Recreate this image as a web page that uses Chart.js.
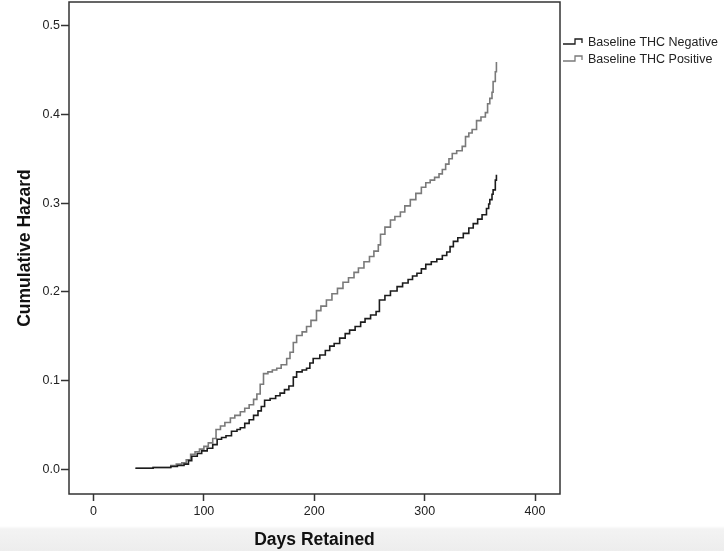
<!DOCTYPE html>
<html>
<head>
<meta charset="utf-8">
<script src="https://cdn.jsdelivr.net/npm/chart.js@4/dist/chart.umd.min.js"></script>
<style>
  html, body { margin: 0; padding: 0; }
  body {
    width: 724px; height: 551px; overflow: hidden;
    background: linear-gradient(to bottom, #ffffff 0px, #ffffff 526px, #f3f3f3 529px, #ededed 551px);
  }
</style>
</head>
<body>
<canvas id="hazard-chart" width="724" height="551"></canvas>
<script>
// Cumulative hazard
var seriesNames = ["Baseline THC Negative", "Baseline THC Positive"];

var negDays = [38, 54, 70, 76, 82, 86, 89, 94, 98, 103, 108, 112, 116, 120, 125, 130, 133, 137, 141, 145,
    149, 152, 155, 160, 165, 169, 173, 177, 181, 184, 189, 193, 196, 199, 205, 210, 214, 218, 223, 228,
    232, 237, 242, 246, 251, 256, 259, 264, 269, 275, 280, 285, 289, 293, 297, 301, 306, 311, 316, 320,
    323, 326, 330, 335, 340, 344, 348, 352, 356, 358, 359, 361, 362, 364, 365];
var negHazard = [0.0014, 0.0023, 0.0034, 0.0045, 0.006, 0.010, 0.015, 0.018, 0.021, 0.024, 0.028, 0.034, 0.036, 0.038, 0.043, 0.045, 0.047, 0.052, 0.056, 0.061,
    0.066, 0.071, 0.078, 0.080, 0.083, 0.086, 0.090, 0.094, 0.104, 0.110, 0.112, 0.114, 0.120, 0.125, 0.129, 0.134, 0.139, 0.142, 0.148, 0.153,
    0.157, 0.161, 0.166, 0.170, 0.174, 0.178, 0.191, 0.196, 0.201, 0.206, 0.210, 0.214, 0.218, 0.221, 0.226, 0.231, 0.234, 0.237, 0.241, 0.245,
    0.251, 0.257, 0.261, 0.266, 0.272, 0.277, 0.282, 0.287, 0.294, 0.299, 0.304, 0.310, 0.315, 0.326, 0.332];

var posDays = [38, 54, 70, 75, 80, 84, 88, 92, 96, 100, 104, 108, 111, 115, 119, 124, 128, 133, 137, 141,
    145, 148, 151, 154, 158, 162, 166, 170, 175, 178, 181, 184, 189, 193, 197, 202, 206, 211, 216, 221,
    226, 231, 236, 240, 245, 250, 254, 258, 260, 264, 269, 273, 278, 282, 287, 292, 297, 301, 305, 309,
    313, 316, 319, 322, 325, 329, 334, 337, 340, 343, 347, 351, 355, 357, 359, 361, 362, 364, 365];
var posHazard = [0.0014, 0.0023, 0.0045, 0.006, 0.0075, 0.011, 0.017, 0.020, 0.023, 0.026, 0.030, 0.035, 0.045, 0.049, 0.053, 0.058, 0.061, 0.065, 0.069, 0.073,
    0.079, 0.085, 0.096, 0.108, 0.110, 0.112, 0.114, 0.118, 0.125, 0.132, 0.143, 0.151, 0.155, 0.161, 0.168, 0.179, 0.184, 0.191, 0.198, 0.204,
    0.211, 0.216, 0.222, 0.227, 0.234, 0.240, 0.246, 0.253, 0.265, 0.273, 0.281, 0.285, 0.290, 0.297, 0.304, 0.311, 0.318, 0.323, 0.326, 0.329,
    0.333, 0.338, 0.344, 0.350, 0.356, 0.359, 0.364, 0.375, 0.379, 0.383, 0.393, 0.397, 0.402, 0.412, 0.418, 0.425, 0.437, 0.448, 0.459];

var xTicks = [0, 100, 200, 300, 400];
var yTicks = [0.0, 0.1, 0.2, 0.3, 0.4, 0.5];

function toPoints(xs, ys) {
    return xs.map(function (x, i) { return { x: x, y: ys[i] }; });
}

var FONT = "'Liberation Sans', Arial, Helvetica, sans-serif";
var INK = '#333333';

// frame around the plot area plus the step-shaped legend on the right
var framePlugin = {
    id: 'frame',
    afterDatasetsDraw: function (chart) {
        var ctx = chart.ctx, a = chart.chartArea;
        ctx.save();
        ctx.strokeStyle = INK;
        ctx.lineWidth = 1.5;
        ctx.strokeRect(a.left, a.top, a.right - a.left, a.bottom - a.top);

        ctx.font = '12.5px ' + FONT;
        ctx.textBaseline = 'middle';
        ctx.fillStyle = '#222';
        chart.data.datasets.forEach(function (ds, i) {
            var y = 43 + i * 17;
            var x0 = a.right + 3;
            ctx.strokeStyle = ds.borderColor;
            ctx.lineWidth = 1.3;
            ctx.beginPath();
            ctx.moveTo(x0, y + 1);
            ctx.lineTo(x0 + 12, y + 1);
            ctx.lineTo(x0 + 12, y - 4);
            ctx.lineTo(x0 + 19, y - 4);
            ctx.lineTo(x0 + 19, y);
            ctx.stroke();
            ctx.fillText(ds.label, x0 + 25, y);
        });
        ctx.restore();
    }
};

new Chart(document.getElementById("hazard-chart"), {
    type: 'line',
    data: {
        datasets: [
            {
                label: seriesNames[0],
                data: toPoints(negDays, negHazard),
                borderColor: '#1c1c1c',
                borderWidth: 1.6,
                stepped: true,
                pointRadius: 0,
                fill: false
            },
            {
                label: seriesNames[1],
                data: toPoints(posDays, posHazard),
                borderColor: '#7a7a7a',
                borderWidth: 1.6,
                stepped: true,
                pointRadius: 0,
                fill: false
            }
        ]
    },
    plugins: [framePlugin],
    options: {
        responsive: false,
        animation: false,
        layout: { padding: { left: 0, top: 2, right: 164, bottom: 0 } },
        plugins: {
            legend: { display: false },
            tooltip: { enabled: false }
        },
        scales: {
            x: {
                type: 'linear',
                min: -22.2,
                max: 422.6,
                afterBuildTicks: function (scale) {
                    scale.ticks = xTicks.map(function (v) { return { value: v }; });
                },
                afterFit: function (scale) {
                    scale.height = 57;
                    scale.paddingLeft = 0;
                    scale.paddingRight = 0;
                },
                grid: { display: true, drawOnChartArea: false, drawTicks: true, tickLength: 7, tickColor: INK, tickWidth: 1.5 },
                border: { display: false },
                ticks: { color: '#222', padding: 3, maxRotation: 0, font: { family: FONT, size: 12.5 } },
                title: {
                    display: true,
                    text: 'Days Retained',
                    color: '#111',
                    font: { family: FONT, size: 17.5, weight: 'bold', lineHeight: 1 },
                    padding: { top: 0, bottom: 2.5 }
                }
            },
            y: {
                type: 'linear',
                min: -0.0276,
                max: 0.5266,
                afterBuildTicks: function (scale) {
                    scale.ticks = yTicks.map(function (v) { return { value: v }; });
                },
                afterFit: function (scale) {
                    scale.width = 69;
                    scale.paddingTop = 0;
                    scale.paddingBottom = 0;
                },
                grid: { display: true, drawOnChartArea: false, drawTicks: true, tickLength: 8, tickColor: INK, tickWidth: 1.5 },
                border: { display: false },
                ticks: {
                    color: '#222',
                    padding: 1,
                    font: { family: FONT, size: 12.5 },
                    callback: function (v) { return Number(v).toFixed(1); }
                },
                title: {
                    display: true,
                    text: 'Cumulative Hazard',
                    color: '#111',
                    font: { family: FONT, size: 17.5, weight: 'bold', lineHeight: 1.2 },
                    padding: { top: 15, bottom: 0 }
                }
            }
        }
    }
});
</script>
</body>
</html>
